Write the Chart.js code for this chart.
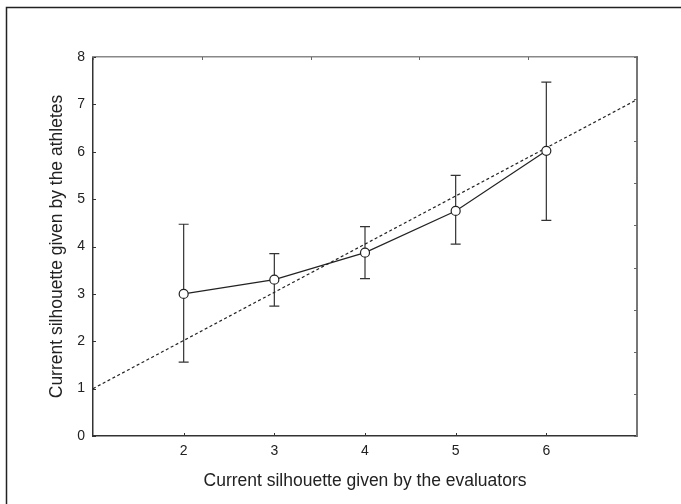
<!DOCTYPE html>
<html>
<head>
<meta charset="utf-8">
<script src="https://cdn.jsdelivr.net/npm/chart.js@4"></script>
<style>
  html, body { margin: 0; padding: 0; background: #fff; }
  #wrap { width: 681px; height: 504px; }
</style>
</head>
<body>
<div id="wrap"><canvas id="chart" width="681" height="504"></canvas></div>
<script>
// ====== DATA ======
const evaluators = [2, 3, 4, 5, 6];
const athleteMeans = [3.0, 3.3, 3.87, 4.75, 6.02];
const errLower = [1.56, 2.74, 3.32, 4.05, 4.55];
const errUpper = [4.47, 3.85, 4.42, 5.5, 7.47];
const refLineX = [1, 7];
const refLineY = [1, 7.1];
const xTicks = [2, 3, 4, 5, 6];
const yTicks = [0, 1, 2, 3, 4, 5, 6, 7, 8];
const topTicks = [0, 1, 2, 3, 4, 5];
const rightTicks = [0, 1, 2, 3, 4, 5, 6, 7, 8, 9];

const FONT = '"Liberation Sans", Arial, sans-serif';
const INK = '#222';

// error bars drawn under the points
const errorBars = {
  id: 'errorBars',
  beforeDatasetsDraw(chart) {
    const { ctx, scales: { x, y } } = chart;
    ctx.save();
    ctx.strokeStyle = '#333';
    ctx.lineWidth = 1.2;
    evaluators.forEach((v, i) => {
      const px = x.getPixelForValue(v);
      const lo = y.getPixelForValue(errLower[i]);
      const hi = y.getPixelForValue(errUpper[i]);
      ctx.beginPath();
      ctx.moveTo(px, lo); ctx.lineTo(px, hi);
      ctx.moveTo(px - 5, lo); ctx.lineTo(px + 5, lo);
      ctx.moveTo(px - 5, hi); ctx.lineTo(px + 5, hi);
      ctx.stroke();
    });
    ctx.restore();
  }
};

// inward tick marks + outer frame
const innerTicks = {
  id: 'innerTicks',
  afterDraw(chart) {
    const { ctx, chartArea: a, scales } = chart;
    const len = 3;
    ctx.save();
    ctx.lineWidth = 1;
    ctx.strokeStyle = '#333';
    ctx.beginPath();
    scales.x.ticks.forEach(t => {
      const p = Math.round(scales.x.getPixelForValue(t.value)) + 0.5;
      ctx.moveTo(p, a.bottom); ctx.lineTo(p, a.bottom - len);
    });
    scales.y.ticks.forEach(t => {
      const p = Math.round(scales.y.getPixelForValue(t.value)) + 0.5;
      ctx.moveTo(a.left, p); ctx.lineTo(a.left + len, p);
    });
    ctx.stroke();
    ctx.strokeStyle = '#666';
    ctx.beginPath();
    scales.x2.ticks.forEach(t => {
      const p = Math.round(scales.x2.getPixelForValue(t.value)) + 0.5;
      ctx.moveTo(p, a.top); ctx.lineTo(p, a.top + len);
    });
    scales.y2.ticks.forEach(t => {
      const p = Math.round(scales.y2.getPixelForValue(t.value)) + 0.5;
      ctx.moveTo(a.right, p); ctx.lineTo(a.right - len, p);
    });
    ctx.stroke();
    // outer frame (top and left edges visible)
    ctx.strokeStyle = INK;
    ctx.lineWidth = 1.5;
    ctx.beginPath();
    ctx.moveTo(6.5, 504); ctx.lineTo(6.5, 7.5); ctx.lineTo(681, 7.5);
    ctx.stroke();
    ctx.restore();
  }
};

new Chart(document.getElementById('chart'), {
  type: 'scatter',
  data: {
    datasets: [
      {
        label: 'Mean',
        data: evaluators.map((v, i) => ({ x: v, y: athleteMeans[i] })),
        showLine: true,
        borderColor: INK,
        borderWidth: 1.2,
        pointRadius: 4.5,
        pointBorderWidth: 1.2,
        pointBackgroundColor: '#fff',
        pointBorderColor: INK,
      },
      {
        label: 'Reference',
        data: refLineX.map((v, i) => ({ x: v, y: refLineY[i] })),
        showLine: true,
        borderColor: INK,
        borderWidth: 1.2,
        borderDash: [3, 2.5],
        pointRadius: 0,
      }
    ]
  },
  options: {
    responsive: false,
    animation: false,
    devicePixelRatio: 1,
    layout: { padding: 0 },
    plugins: { legend: { display: false }, tooltip: { enabled: false } },
    scales: {
      x: {
        type: 'linear', position: 'bottom', min: 1, max: 7,
        afterBuildTicks: s => { s.ticks = xTicks.map(v => ({ value: v })); },
        afterFit: s => { s.height = 68; },
        grid: { display: false, drawTicks: false },
        border: { color: '#333', width: 1.5 },
        ticks: { color: INK, font: { family: FONT, size: 14 }, padding: 7 },
        title: { display: true, text: 'Current silhouette given by the evaluators', color: INK, font: { family: FONT, size: 17.5 }, padding: 12 }
      },
      y: {
        type: 'linear', position: 'left', min: 0, max: 8,
        afterBuildTicks: s => { s.ticks = yTicks.map(v => ({ value: v })); },
        afterFit: s => { s.width = 93; },
        grid: { display: false, drawTicks: false },
        border: { color: '#333', width: 1.5 },
        ticks: { color: INK, font: { family: FONT, size: 14 }, padding: 8 },
        title: { display: true, text: 'Current silhouette given by the athletes', color: INK, font: { family: FONT, size: 17.5 }, padding: 47 }
      },
      x2: {
        type: 'linear', position: 'top', min: 0, max: 5,
        afterBuildTicks: s => { s.ticks = topTicks.map(v => ({ value: v })); },
        afterFit: s => { s.height = 57; },
        grid: { display: false, drawTicks: false },
        border: { color: '#888', width: 1.5 },
        ticks: { display: false }
      },
      y2: {
        type: 'linear', position: 'right', min: 0, max: 9,
        afterBuildTicks: s => { s.ticks = rightTicks.map(v => ({ value: v })); },
        afterFit: s => { s.width = 44; },
        grid: { display: false, drawTicks: false },
        border: { color: '#777', width: 2 },
        ticks: { display: false }
      }
    }
  },
  plugins: [errorBars, innerTicks]
});
</script>
</body>
</html>
